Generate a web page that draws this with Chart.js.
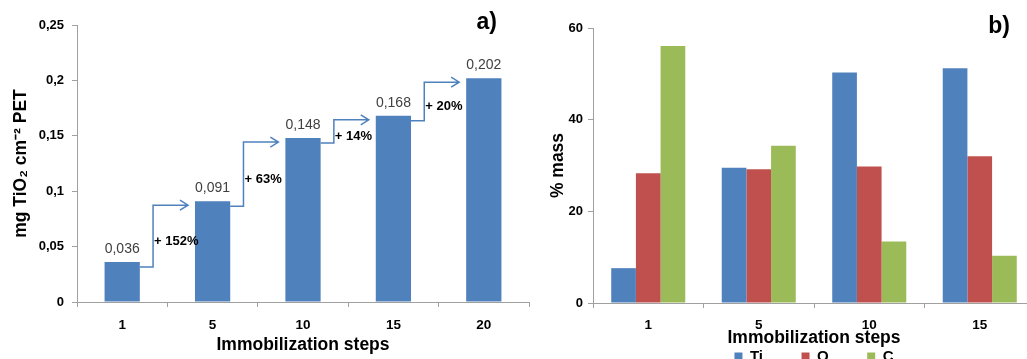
<!DOCTYPE html>
<html>
<head>
<meta charset="utf-8">
<script src="https://cdn.jsdelivr.net/npm/chart.js@4.4.1/dist/chart.umd.min.js"></script>
<style>
  html, body { margin: 0; padding: 0; background: #fff; overflow: hidden; width: 1027px; height: 359px; }
  #graficoA { position: absolute; left: 0; top: 0; }
  #graficoB { position: absolute; left: 530px; top: 0; }
</style>
</head>
<body>
<canvas id="graficoA" width="530" height="359"></canvas>
<canvas id="graficoB" width="506" height="374"></canvas>
<script>
// painel a) massa de TiO2 por passo
const stepsA = ["1", "5", "10", "15", "20"];
const tio2Mass = [0.036, 0.091, 0.148, 0.168, 0.202];
const growthLabels = ["+ 152%", "+ 63%", "+ 14%", "+ 20%"];

// painel b) composição (% massa)
const stepsB = ["1", "5", "10", "15"];
const elements = ["Ti", "O", "C"];
const tiMass = [7.6, 29.5, 50.3, 51.2];
const oMass = [28.3, 29.2, 29.8, 32.0];
const cMass = [56.1, 34.3, 13.4, 10.3];

(function () {
  "use strict";

  const FONT = "'Liberation Sans', Arial, Helvetica, sans-serif";
  const BLUE = "#4f81bd";
  const RED = "#c0504d";
  const GREEN = "#9bbb59";
  const AXIS = "#a0a0a0";

  function comma(v, digits) {
    return String(+v.toFixed(digits)).replace(".", ",");
  }

  function axisGrid() {
    return { display: true, drawOnChartArea: false, drawTicks: true, tickLength: 5, color: AXIS, lineWidth: 1 };
  }

  // letra do painel, no canto superior direito
  function letterPlugin(text, dx, y) {
    return {
      id: "letra",
      afterDraw(chart) {
        const ctx = chart.ctx;
        ctx.save();
        ctx.font = "bold 23px " + FONT;
        ctx.fillStyle = "#000";
        ctx.textAlign = "right";
        ctx.textBaseline = "middle";
        ctx.fillText(text, chart.chartArea.right - dx, y);
        ctx.restore();
      },
    };
  }

  // rótulos de valor e setas de crescimento entre barras
  const growthPlugin = {
    id: "crescimento",
    afterDatasetsDraw(chart) {
      const ctx = chart.ctx;
      const bars = chart.getDatasetMeta(0).data;
      ctx.save();

      ctx.font = "14px " + FONT;
      ctx.fillStyle = "#404040";
      ctx.textAlign = "center";
      ctx.textBaseline = "middle";
      bars.forEach((b, i) => {
        ctx.fillText(comma(tio2Mass[i], 3), b.x, b.y - 13);
      });

      ctx.strokeStyle = BLUE;
      ctx.lineWidth = 1.5;
      ctx.font = "bold 13px " + FONT;
      ctx.fillStyle = "#000";
      ctx.textAlign = "left";
      for (let i = 0; i < bars.length - 1; i++) {
        const a = bars[i];
        const n = bars[i + 1];
        const x0 = a.x + a.width / 2;
        const xn = n.x - n.width / 2;
        const xv = x0 + (xn - x0) * 0.24;
        const xe = xn - 7;
        const y0 = a.y + 5;
        const y1 = n.y + 4;
        ctx.beginPath();
        ctx.moveTo(x0, y0);
        ctx.lineTo(xv, y0);
        ctx.lineTo(xv, y1);
        ctx.lineTo(xe, y1);
        ctx.moveTo(xe - 8, y1 - 5);
        ctx.lineTo(xe, y1);
        ctx.lineTo(xe - 8, y1 + 5);
        ctx.stroke();
        ctx.fillText(growthLabels[i], xv + 1, (y0 + y1) / 2 + 5);
      }
      ctx.restore();
    },
  };

  function criarA() {
    new Chart(document.getElementById("graficoA"), {
      type: "bar",
      data: {
        labels: stepsA,
        datasets: [
          {
            data: tio2Mass,
            backgroundColor: BLUE,
            borderWidth: 0,
            categoryPercentage: 1,
            barPercentage: 0.39,
          },
        ],
      },
      options: {
        responsive: false,
        animation: false,
        layout: { padding: { top: 25, right: 1, left: 0, bottom: 0 } },
        plugins: { legend: { display: false }, tooltip: { enabled: false } },
        scales: {
          x: {
            grid: axisGrid(),
            border: { display: true, color: AXIS },
            ticks: { color: "#000", padding: 10, font: { family: FONT, size: 13.5, weight: "bold" } },
            title: {
              display: true,
              text: "Immobilization steps",
              color: "#000",
              padding: { top: 0, bottom: 3.5 },
              font: { family: FONT, size: 17.5, weight: "bold" },
            },
            afterFit: (axis) => { axis.height = 57; },
          },
          y: {
            min: 0,
            max: 0.25,
            grid: axisGrid(),
            border: { display: true, color: AXIS },
            ticks: {
              stepSize: 0.05,
              color: "#000",
              padding: 8,
              font: { family: FONT, size: 13, weight: "bold" },
              callback: (v) => comma(v, 2),
            },
            title: {
              display: true,
              text: "mg TiO\u2082 cm\u207B\u00B2 PET",
              color: "#000",
              padding: { top: 10.5, bottom: 0 },
              font: { family: FONT, size: 17.5, weight: "bold" },
            },
            afterFit: (axis) => { axis.width = 77; },
          },
        },
      },
      plugins: [growthPlugin, letterPlugin("a)", 32, 23)],
    });
  }

  function criarB() {
    const series = [tiMass, oMass, cMass];
    const colors = [BLUE, RED, GREEN];
    new Chart(document.getElementById("graficoB"), {
      type: "bar",
      data: {
        labels: stepsB,
        datasets: elements.map((el, i) => ({
          label: el,
          data: series[i],
          backgroundColor: colors[i],
          borderWidth: 0,
          categoryPercentage: 0.67,
          barPercentage: 1,
        })),
      },
      options: {
        responsive: false,
        animation: false,
        layout: { padding: { top: 28, right: 1, left: 0, bottom: 0 } },
        plugins: {
          tooltip: { enabled: false },
          legend: {
            position: "bottom",
            fullSize: false,
            labels: {
              boxWidth: 8,
              boxHeight: 8,
              padding: 16,
              color: "#000",
              font: { family: FONT, size: 15, weight: "bold" },
              // espaço extra entre os itens da legenda
              generateLabels(chart) {
                const items = Chart.defaults.plugins.legend.labels.generateLabels(chart);
                items.forEach((it, i) => {
                  if (i < items.length - 1) it.text += "\u2003\u2002";
                });
                return items;
              },
            },
          },
        },
        scales: {
          x: {
            grid: axisGrid(),
            border: { display: true, color: AXIS },
            ticks: { color: "#000", padding: 9, font: { family: FONT, size: 13.5, weight: "bold" } },
            title: {
              display: true,
              text: "Immobilization steps",
              color: "#000",
              padding: { top: 0, bottom: -15.5 },
              font: { family: FONT, size: 17.5, weight: "bold" },
            },
            afterFit: (axis) => { axis.height = 30; },
          },
          y: {
            min: 0,
            max: 60,
            grid: axisGrid(),
            border: { display: true, color: AXIS },
            ticks: {
              stepSize: 20,
              color: "#000",
              padding: 5,
              font: { family: FONT, size: 13, weight: "bold" },
            },
            title: {
              display: true,
              text: "% mass",
              color: "#000",
              padding: { top: 17.5, bottom: 0 },
              font: { family: FONT, size: 17.5, weight: "bold" },
            },
            afterFit: (axis) => { axis.width = 63; },
          },
        },
      },
      plugins: [letterPlugin("b)", 25, 27)],
    });
  }

  criarA();
  criarB();
})();
</script>
</body>
</html>
